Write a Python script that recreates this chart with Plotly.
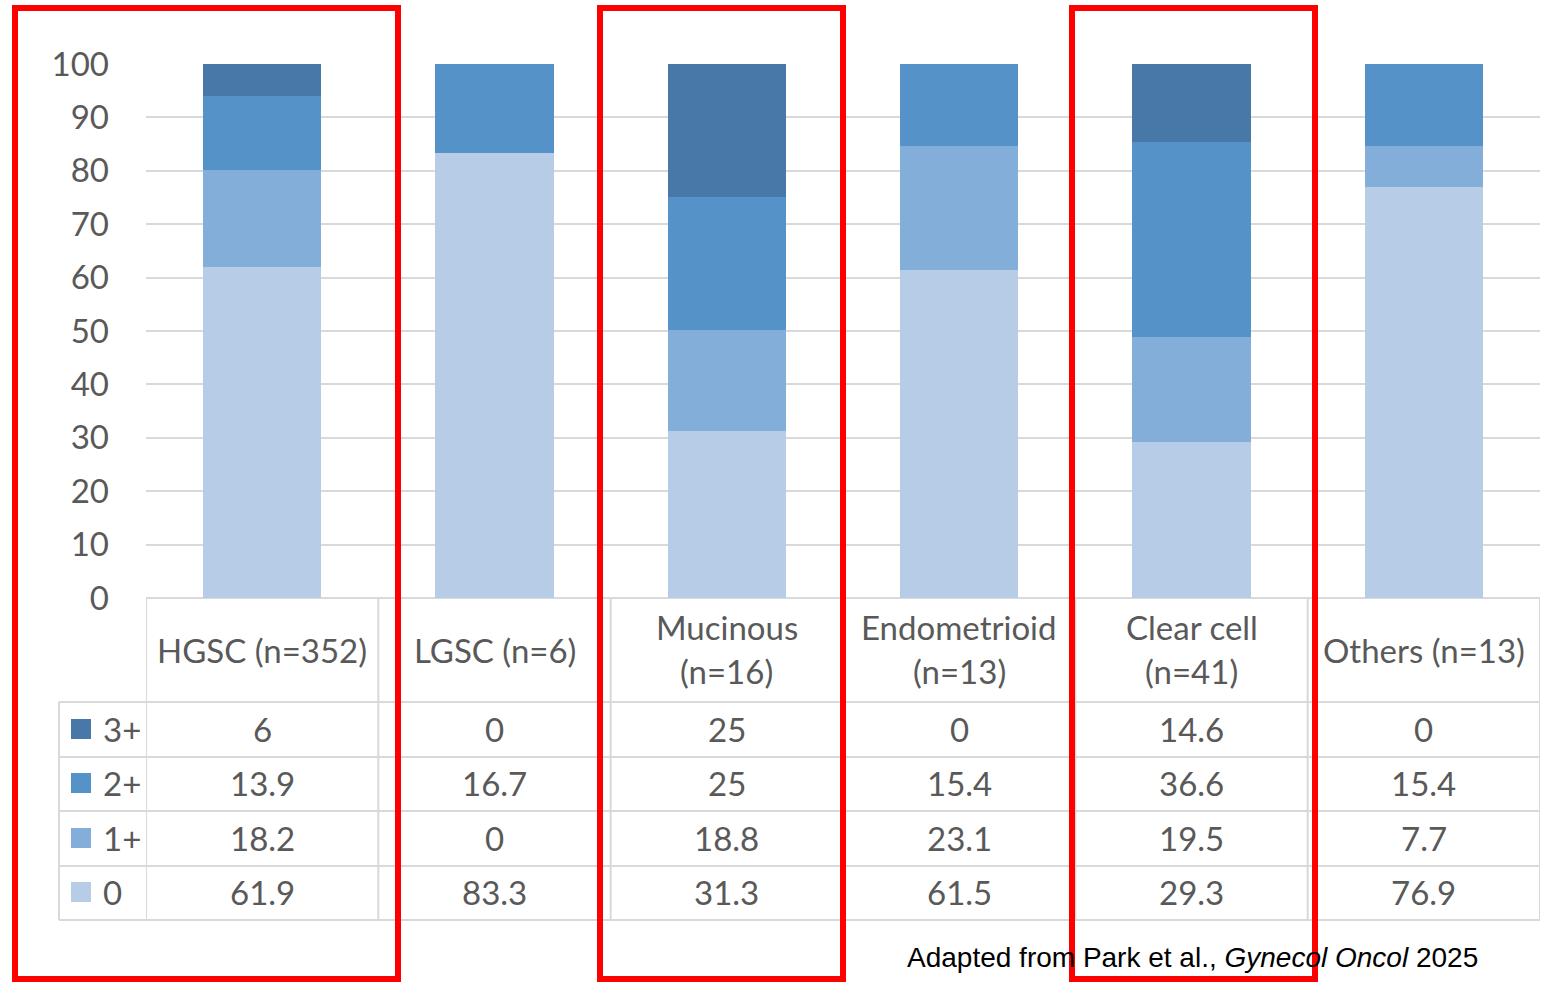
import plotly.graph_objects as go

# HER2 IHC score distribution (%) by histologic subtype
categories = ["HGSC (n=352)", "LGSC (n=6)", "Mucinous\n(n=16)",
              "Endometrioid\n(n=13)", "Clear cell\n(n=41)", "Others (n=13)"]
score_0 = [61.9, 83.3, 31.3, 61.5, 29.3, 76.9]
score_1 = [18.2, 0, 18.8, 23.1, 19.5, 7.7]
score_2 = [13.9, 16.7, 25, 15.4, 36.6, 15.4]
score_3 = [6, 0, 25, 0, 14.6, 0]

series_names = ["0", "1+", "2+", "3+"]
series_values = [score_0, score_1, score_2, score_3]
series_colors = ["#B7CCE7", "#84AEDA", "#5592C7", "#4778A7"]

W, H = 1542, 983
FONT = "Lato"
FS = 33
TXT = "#595959"
LINE = "#D9D9D9"


def px(x):
    return x / W


def py(y):
    return 1 - y / H


fig = go.Figure()
xs = list(range(len(categories)))
for name, vals, col in zip(series_names, series_values, series_colors):
    fig.add_trace(go.Bar(x=xs, y=vals, name=name, marker_color=col,
                         marker_line_width=0, showlegend=False))

shapes = []
annotations = []

# data table grid below the plot
row_edges = [702, 757, 811, 866, 920]
for yy in row_edges:
    shapes.append(dict(type="line", xref="paper", yref="paper",
                       x0=px(59), x1=px(1540), y0=py(yy), y1=py(yy),
                       line=dict(color=LINE, width=2)))
shapes.append(dict(type="line", xref="paper", yref="paper",
                   x0=px(59), x1=px(59), y0=py(702), y1=py(920),
                   line=dict(color=LINE, width=2)))
for i in range(len(categories) + 1):
    shapes.append(dict(type="line", xref="x", yref="paper",
                       x0=i - 0.5, x1=i - 0.5, y0=py(598), y1=py(920),
                       line=dict(color=LINE, width=2)))

# header cells
for i, cat in enumerate(categories):
    lines = cat.split("\n")
    if len(lines) == 1:
        ys = [650]
    else:
        ys = [627, 671]
    for txt, yy in zip(lines, ys):
        annotations.append(dict(x=i, y=py(yy), xref="x", yref="paper",
                                text=txt, showarrow=False, xanchor="center",
                                yanchor="middle",
                                font=dict(family=FONT, size=FS, color=TXT)))

# value rows (top row is 3+)
row_centers = [729, 783, 838, 892]
for r, idx in enumerate([3, 2, 1, 0]):
    yc = row_centers[r]
    vals = series_values[idx]
    for i, v in enumerate(vals):
        annotations.append(dict(x=i, y=py(yc), xref="x", yref="paper",
                                text=f"{v:g}", showarrow=False,
                                xanchor="center", yanchor="middle",
                                font=dict(family=FONT, size=FS, color=TXT)))
    # legend key
    shapes.append(dict(type="rect", xref="paper", yref="paper",
                       x0=px(71), x1=px(91), y0=py(yc - 10), y1=py(yc + 10),
                       fillcolor=series_colors[idx], line_width=0))
    annotations.append(dict(x=px(101), y=py(yc), xref="paper", yref="paper",
                            text=series_names[idx], showarrow=False,
                            xanchor="left", yanchor="middle",
                            font=dict(family=FONT, size=FS, color=TXT)))

# highlight boxes
for x0, x1 in [(15, 398), (600, 843), (1072, 1315)]:
    shapes.append(dict(type="rect", xref="paper", yref="paper",
                       x0=px(x0), x1=px(x1), y0=py(8), y1=py(979),
                       line=dict(color="#FF0000", width=6),
                       fillcolor="rgba(0,0,0,0)", layer="above"))

annotations.append(dict(x=px(905), y=py(957), xref="paper", yref="paper",
                        text="Adapted from Park et al., <i>Gynecol Oncol</i> 2025",
                        showarrow=False, xanchor="left", yanchor="middle",
                        font=dict(family="Liberation Sans", size=28,
                                  color="#000000")))

fig.update_layout(
    width=W, height=H, autosize=False,
    margin=dict(l=0, r=0, t=0, b=0, pad=0, autoexpand=False),
    paper_bgcolor="white", plot_bgcolor="white",
    barmode="stack", bargap=0.49,
    xaxis=dict(domain=[px(146), px(1540)], range=[-0.5, 5.5],
               showticklabels=False, showgrid=False, zeroline=False,
               showline=False, fixedrange=True, automargin=False),
    yaxis=dict(domain=[py(598), py(64)], range=[0, 100], dtick=10,
               showgrid=True, gridcolor=LINE, gridwidth=2,
               zeroline=True, zerolinecolor=LINE, zerolinewidth=2,
               ticks="", ticklabelstandoff=36, automargin=False,
               tickfont=dict(family=FONT, size=FS, color=TXT),
               showline=False, fixedrange=True),
    shapes=shapes, annotations=annotations,
)

fig.write_html("out.html", config={"displayModeBar": False})
